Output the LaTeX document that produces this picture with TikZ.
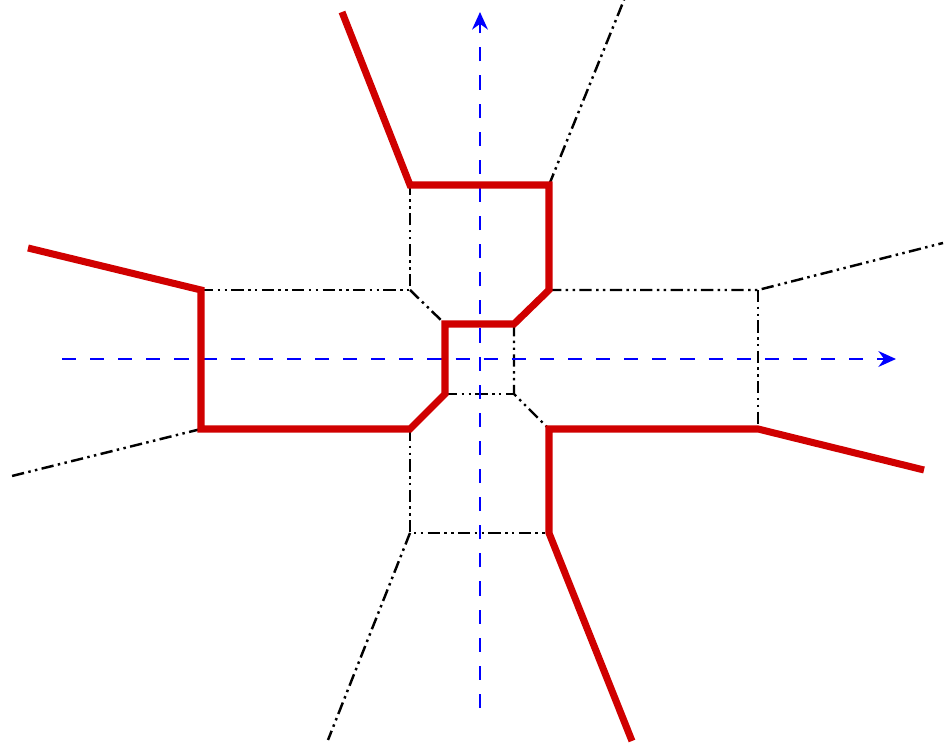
\documentclass[tikz,border=0pt]{standalone}
\usetikzlibrary{arrows.meta}
\begin{document}
\begin{tikzpicture}[x=0.02cm,y=-0.02cm,
  redline/.style={draw={rgb,255:red,208;green,0;blue,0},line width=4pt,line join=miter},
  ddline/.style={draw=black,line width=1.4pt,dash pattern=on 7pt off 2.5pt on 1.4pt off 2.5pt on 1.4pt off 2.5pt},
  axisline/.style={draw=blue,line width=1.3pt,dash pattern=on 8pt off 8pt,-{Stealth[length=10pt,width=9pt]}}]
\useasboundingbox (0,0) rectangle (948,749);
% coordinates
\coordinate (vb) at (480,708); \coordinate (vt) at (480,12);
\coordinate (hl) at (62,359); \coordinate (hr) at (896,359);
\coordinate (r1) at (342,12);
\coordinate (A) at (410,185); \coordinate (B) at (549,185);
\coordinate (C) at (549,290); \coordinate (D) at (514,324);
\coordinate (E) at (445,324); \coordinate (F) at (445,394);
\coordinate (G) at (410,429); \coordinate (H) at (201,429);
\coordinate (I) at (201,290); \coordinate (r2) at (28,248);
\coordinate (J) at (514,394); \coordinate (K) at (549,429);
\coordinate (L) at (758,429); \coordinate (M) at (758,290);
\coordinate (N) at (410,290); \coordinate (O) at (410,533);
\coordinate (P) at (549,533);
\coordinate (t1) at (624,0); \coordinate (t2) at (943,243);
\coordinate (t3) at (8,477); \coordinate (t4) at (328,740);
\coordinate (r3) at (632,741); \coordinate (r4) at (924,470);
% dash-dot lines
\draw[ddline] (B) -- (t1);
\draw[ddline] (C) -- (M) -- (t2);
\draw[ddline] (M) -- (L);
\draw[ddline] (I) -- (N) -- (A);
\draw[ddline] (N) -- (E);
\draw[ddline] (D) -- (J) -- (K);
\draw[ddline] (F) -- (J);
\draw[ddline] (H) -- (t3);
\draw[ddline] (G) -- (O) -- (P);
\draw[ddline] (O) -- (t4);
% axes
\draw[axisline] (vb) -- (vt);
\draw[axisline] (hl) -- (hr);
% red paths
\draw[redline] (r1) -- (A) -- (B) -- (C) -- (D) -- (E) -- (F) -- (G) -- (H) -- (I) -- (r2);
\draw[redline] (r3) -- (P) -- (K) -- (L) -- (r4);
\end{tikzpicture}
\end{document}
